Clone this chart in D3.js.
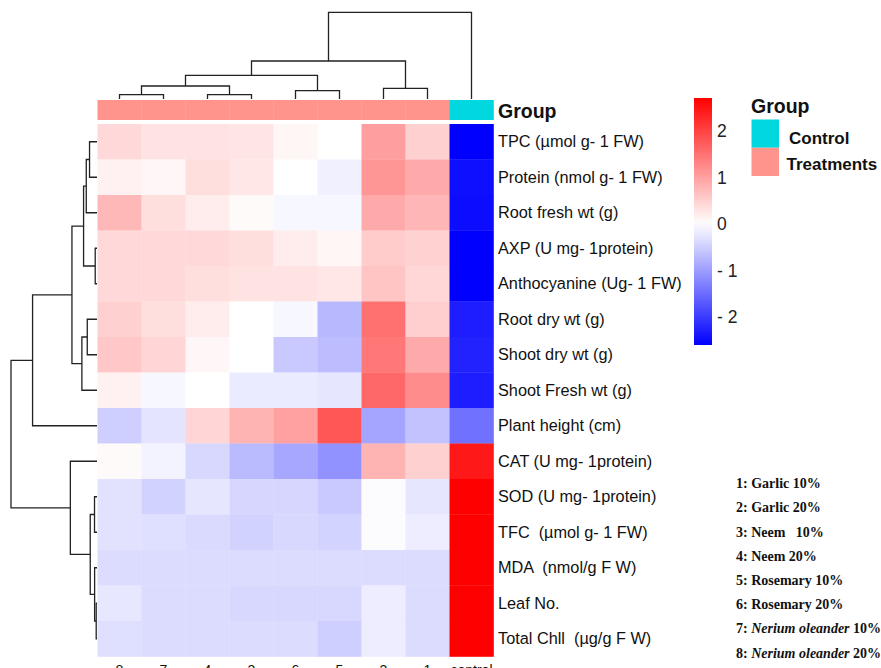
<!DOCTYPE html>
<html>
<head>
<meta charset="utf-8">
<script src="https://cdn.jsdelivr.net/npm/d3@7"></script>
<style>
  body { margin: 0; background: #fff; }
  svg { display: block; font-family: "Liberation Sans", Arial, sans-serif; }
</style>
</head>
<body>
<div id="chart"></div>
<script>
const width = 881;
const height = 668;

// columns in clustered order
const columns = ["8", "7", "4", "3", "6", "5", "2", "1", "control"];
const columnGroups = ["Treatments", "Treatments", "Treatments", "Treatments", "Treatments",
  "Treatments", "Treatments", "Treatments", "Control"];

const rowLabels = [
  "TPC (µmol g- 1 FW)",
  "Protein (nmol g- 1 FW)",
  "Root fresh wt (g)",
  "AXP (U mg- 1protein)",
  "Anthocyanine (Ug- 1 FW)",
  "Root dry wt (g)",
  "Shoot dry wt (g)",
  "Shoot Fresh wt (g)",
  "Plant height (cm)",
  "CAT (U mg- 1protein)",
  "SOD (U mg- 1protein)",
  "TFC  (µmol g- 1 FW)",
  "MDA  (nmol/g F W)",
  "Leaf No.",
  "Total Chll  (µg/g F W)"
];

// scaled values, one row per variable, columns in the order above
const values = [
  [0.40, 0.30, 0.30, 0.28, 0.10, 0.00, 1.03, 0.50, -2.60],
  [0.15, 0.08, 0.35, 0.25, 0.00, -0.15, 1.12, 0.90, -2.45],
  [0.75, 0.35, 0.20, 0.05, -0.08, -0.08, 0.90, 0.78, -2.48],
  [0.40, 0.40, 0.40, 0.35, 0.20, 0.10, 0.55, 0.48, -2.60],
  [0.40, 0.40, 0.35, 0.30, 0.30, 0.25, 0.62, 0.42, -2.60],
  [0.50, 0.35, 0.20, 0.00, -0.08, -0.72, 1.52, 0.52, -2.30],
  [0.60, 0.45, 0.08, 0.00, -0.55, -0.68, 1.45, 0.90, -2.25],
  [0.15, -0.08, 0.00, -0.20, -0.20, -0.25, 1.60, 1.22, -2.30],
  [-0.50, -0.28, 0.45, 0.80, 1.00, 1.80, -0.92, -0.62, -1.45],
  [0.05, -0.12, -0.40, -0.70, -0.90, -1.12, 0.80, 0.50, 2.45],
  [-0.30, -0.46, -0.25, -0.42, -0.42, -0.55, -0.03, -0.25, 2.71],
  [-0.30, -0.33, -0.38, -0.46, -0.40, -0.45, -0.03, -0.18, 2.71],
  [-0.36, -0.36, -0.36, -0.36, -0.36, -0.36, -0.36, -0.36, 2.71],
  [-0.24, -0.36, -0.36, -0.40, -0.40, -0.40, -0.18, -0.36, 2.71],
  [-0.33, -0.36, -0.36, -0.36, -0.36, -0.50, -0.18, -0.36, 2.71]
];

// hclust style merges: negative = leaf (1-based, display order), positive = earlier merge
const colMerge = [
  [-1, -2, 4.3],
  [-3, -4, 4.3],
  [1, 2, 13],
  [-5, -6, 8.3],
  [3, 4, 23.7],
  [-7, -8, 10.7],
  [5, 6, 38],
  [7, -9, 86.7]
];
const rowMerge = [
  [-1, -2, 7.5],
  [1, -3, 10.8],
  [-4, -5, 1.8],
  [2, 3, 13.5],
  [-6, -7, 9.8],
  [5, -8, 15.2],
  [4, 6, 25.2],
  [7, -9, 64.8],
  [-11, -12, 2.5],
  [-14, -15, 0.8],
  [-13, 10, 2.4],
  [9, 11, 6.8],
  [-10, 12, 26.8],
  [8, 13, 86.5]
];

const legendTicks = [2, 1, 0, -1, -2];
const valueMin = -2.6, valueMax = 2.71;

const groupNames = ["Control", "Treatments"];
const groupColors = ["#00d7df", "#ff948c"];

const notes = [
  "1: Garlic 10%",
  "2: Garlic 20%",
  "3: Neem   10%",
  "4: Neem 20%",
  "5: Rosemary 10%",
  "6: Rosemary 20%",
  "7: Nerium oleander 10%",
  "8: Nerium oleander 20%"
];

const svg = d3.select("#chart").append("svg")
    .attr("width", width)
    .attr("height", height);

svg.append("rect").attr("width", width).attr("height", height).attr("fill", "#fff");

const x = d3.scaleBand().domain(columns).range([97.5, 493.5]);
const y = d3.scaleBand().domain(rowLabels).range([124, 656.5]);
const color = d3.scaleLinear()
    .domain([valueMin, 0, valueMax])
    .range(["#0000ff", "#ffffff", "#ff0000"]);
const groupColor = d3.scaleOrdinal().domain(groupNames).range(groupColors);

// heatmap cells
const cells = [];
values.forEach((row, i) => row.forEach((v, j) => cells.push({ r: rowLabels[i], c: columns[j], v })));
svg.append("g").selectAll("rect")
  .data(cells)
  .join("rect")
    .attr("x", d => x(d.c))
    .attr("y", d => y(d.r))
    .attr("width", x.bandwidth() + 0.3)
    .attr("height", y.bandwidth() + 0.3)
    .attr("fill", d => color(d.v));

// annotation bar
svg.append("g").selectAll("rect")
  .data(columns)
  .join("rect")
    .attr("x", d => x(d))
    .attr("y", 100)
    .attr("width", x.bandwidth() + 0.3)
    .attr("height", 20)
    .attr("fill", (d, i) => groupColor(columnGroups[i]));

svg.append("text")
    .attr("x", 498)
    .attr("y", 111)
    .attr("dy", "0.35em")
    .attr("font-size", 19.5)
    .attr("font-weight", "bold")
    .attr("fill", "#111")
    .text("Group");

// row labels
svg.append("g").selectAll("text")
  .data(rowLabels)
  .join("text")
    .attr("x", 498)
    .attr("y", d => y(d) + y.bandwidth() / 2)
    .attr("dy", "0.35em")
    .attr("font-size", 16.3)
    .attr("fill", "#111")
    .style("white-space", "pre")
    .text(d => d);

// column labels (cut by the bottom edge, as in the original)
svg.append("g").selectAll("text")
  .data(columns)
  .join("text")
    .attr("x", d => x(d) + x.bandwidth() / 2)
    .attr("y", 675)
    .attr("text-anchor", "middle")
    .attr("font-size", 14)
    .attr("fill", "#111")
    .text(d => d);

// dendrograms
function layoutMerge(merge, leafPos) {
  const nodes = [];
  const get = k => k < 0 ? { pos: leafPos(-k - 1), h: 0 } : nodes[k - 1];
  merge.forEach(([a, b, h]) => {
    const na = get(a), nb = get(b);
    nodes.push({ a: na, b: nb, h, pos: (na.pos + nb.pos) / 2 });
  });
  return nodes;
}

const colNodes = layoutMerge(colMerge, i => x(columns[i]) + x.bandwidth() / 2);
const colH = d3.scaleLinear().domain([0, d3.max(colMerge, d => d[2])]).range([99, 12.3]);
svg.append("g").selectAll("path")
  .data(colNodes)
  .join("path")
    .attr("fill", "none")
    .attr("stroke", "#222")
    .attr("stroke-width", 1.3)
    .attr("d", n => `M${n.a.pos},${colH(n.a.h)}V${colH(n.h)}H${n.b.pos}V${colH(n.b.h)}`);

const rowNodes = layoutMerge(rowMerge, i => y(rowLabels[i]) + y.bandwidth() / 2);
const rowH = d3.scaleLinear().domain([0, d3.max(rowMerge, d => d[2])]).range([97, 11]);
svg.append("g").selectAll("path")
  .data(rowNodes)
  .join("path")
    .attr("fill", "none")
    .attr("stroke", "#222")
    .attr("stroke-width", 1.3)
    .attr("d", n => `M${rowH(n.a.h)},${n.a.pos}H${rowH(n.h)}V${n.b.pos}H${rowH(n.b.h)}`);

// colour legend
const legendY = d3.scaleLinear().domain([valueMin, valueMax]).range([345, 98]);
const grad = svg.append("defs").append("linearGradient")
    .attr("id", "scaleGrad")
    .attr("x1", 0).attr("x2", 0).attr("y1", 1).attr("y2", 0);
grad.selectAll("stop")
  .data(d3.range(0, 1.0001, 0.05))
  .join("stop")
    .attr("offset", t => t)
    .attr("stop-color", t => color(valueMin + t * (valueMax - valueMin)));
svg.append("rect")
    .attr("x", 694)
    .attr("y", legendY(valueMax))
    .attr("width", 18)
    .attr("height", legendY(valueMin) - legendY(valueMax))
    .attr("fill", "url(#scaleGrad)");

const legendAxis = svg.append("g")
    .attr("transform", "translate(712,0)")
    .call(d3.axisRight(legendY)
      .tickValues(legendTicks)
      .tickSize(0)
      .tickPadding(5)
      .tickFormat(d => d < 0 ? "- " + Math.abs(d) : String(d)));
legendAxis.select(".domain").remove();
legendAxis.selectAll("text")
    .attr("font-family", "'Liberation Sans', Arial, sans-serif")
    .attr("font-size", 17.5)
    .attr("fill", "#222")
    .style("white-space", "pre");

// group legend
svg.append("text")
    .attr("x", 751)
    .attr("y", 106.5)
    .attr("dy", "0.35em")
    .attr("font-size", 19.5)
    .attr("font-weight", "bold")
    .attr("fill", "#111")
    .text("Group");
const groupY = d3.scaleBand().domain(groupNames).range([119.5, 176]);
svg.append("g").selectAll("rect")
  .data(groupNames)
  .join("rect")
    .attr("x", 751.5)
    .attr("y", d => groupY(d))
    .attr("width", 27.5)
    .attr("height", groupY.bandwidth())
    .attr("fill", d => groupColor(d));
svg.append("g").selectAll("text")
  .data(groupNames)
  .join("text")
    .attr("x", (d, i) => i === 0 ? 789 : 786.5)
    .attr("y", (d, i) => groupY(d) + groupY.bandwidth() / 2 + (i === 0 ? 4.5 : 2.5))
    .attr("dy", "0.35em")
    .attr("font-size", 17)
    .attr("font-weight", "bold")
    .attr("fill", "#111")
    .text(d => d);

// treatment key
const noteY = d3.scalePoint().domain(notes).range([483.3, 652.7]);
const noteText = svg.append("g").selectAll("text")
  .data(notes)
  .join("text")
    .attr("x", 736)
    .attr("y", d => noteY(d))
    .attr("dy", "0.35em")
    .attr("font-family", "'Liberation Serif', 'Times New Roman', serif")
    .attr("font-size", 14)
    .attr("font-weight", "bold")
    .attr("fill", "#111")
    .style("white-space", "pre");
noteText.each(function(d) {
  const parts = d.split(/(Nerium oleander)/);
  d3.select(this).selectAll("tspan")
    .data(parts.filter(p => p.length))
    .join("tspan")
      .attr("font-style", p => p === "Nerium oleander" ? "italic" : null)
      .text(p => p);
});
</script>
</body>
</html>
